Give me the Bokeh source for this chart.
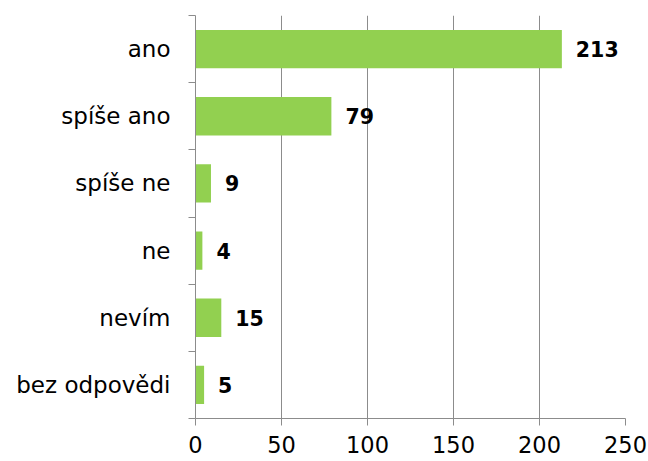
from bokeh.plotting import figure
from bokeh.models import Range1d, LinearAxis, FixedTicker, ColumnDataSource
from bokeh.embed import file_html
from bokeh.resources import INLINE
from bokeh.core.properties import value

categories = ["ano", "spíše ano", "spíše ne", "ne", "nevím", "bez odpovědi"]
counts = [213, 79, 9, 4, 15, 5]
x_ticks = [0, 50, 100, 150, 200, 250]

FONT = "DejaVu Sans"
GRID = "#8c8c8c"

n = len(categories)
# slot centre for each category, first category at the top
ypos = [n - i - 0.5 for i in range(n)]

src = ColumnDataSource(dict(y=ypos, val=counts, lab=[str(v) for v in counts]))

p = figure(width=648, height=461, output_backend="svg", toolbar_location=None,
           y_range=Range1d(0, n), x_range=Range1d(0, 250),
           min_border_left=195, min_border_right=23, min_border_top=15, min_border_bottom=43,
           y_axis_location=None)
p.outline_line_color = None
p.background_fill_color = "white"
p.border_fill_color = "white"

p.hbar(y="y", right="val", height=0.57, left=0, source=src,
       fill_color="#92D050", line_color=None)
p.text(x="val", y="y", text="lab", source=src, x_offset=14,
       text_baseline="middle", text_align="left",
       text_font=value(FONT), text_font_style="bold", text_font_size="20.5px",
       text_color="#000000")

# grid
p.ygrid.visible = False
p.xgrid.ticker = FixedTicker(ticks=x_ticks)
p.xgrid.grid_line_color = GRID
p.xgrid.grid_line_width = 1

# x axis
xa = p.xaxis[0]
xa.ticker = FixedTicker(ticks=x_ticks)
xa.axis_line_color = GRID
xa.major_tick_line_color = GRID
xa.major_tick_out = 7
xa.major_tick_in = 0
xa.minor_tick_line_color = None
xa.major_label_text_font = FONT
xa.major_label_text_font_size = "22.5px"
xa.major_label_text_color = "#000000"
xa.major_label_standoff = 10

# boundary tick axis (nearest to frame), no labels
bounds = list(range(n + 1))
ta = LinearAxis(ticker=FixedTicker(ticks=bounds))
ta.major_label_overrides = {b: "" for b in bounds}
ta.axis_line_color = GRID
ta.major_tick_line_color = GRID
ta.major_tick_out = 7
ta.major_tick_in = 0
ta.minor_tick_line_color = None
ta.major_label_standoff = 0
p.add_layout(ta, "left")

# category label axis
ca = LinearAxis(ticker=FixedTicker(ticks=ypos))
ca.major_label_overrides = {y: c for y, c in zip(ypos, categories)}
ca.axis_line_color = None
ca.major_tick_line_color = None
ca.minor_tick_line_color = None
ca.major_label_text_font = FONT
ca.major_label_text_font_size = "23px"
ca.major_label_text_color = "#000000"
ca.major_label_standoff = 12
p.add_layout(ca, "left")

open("out.html", "w").write(file_html(p, INLINE))
